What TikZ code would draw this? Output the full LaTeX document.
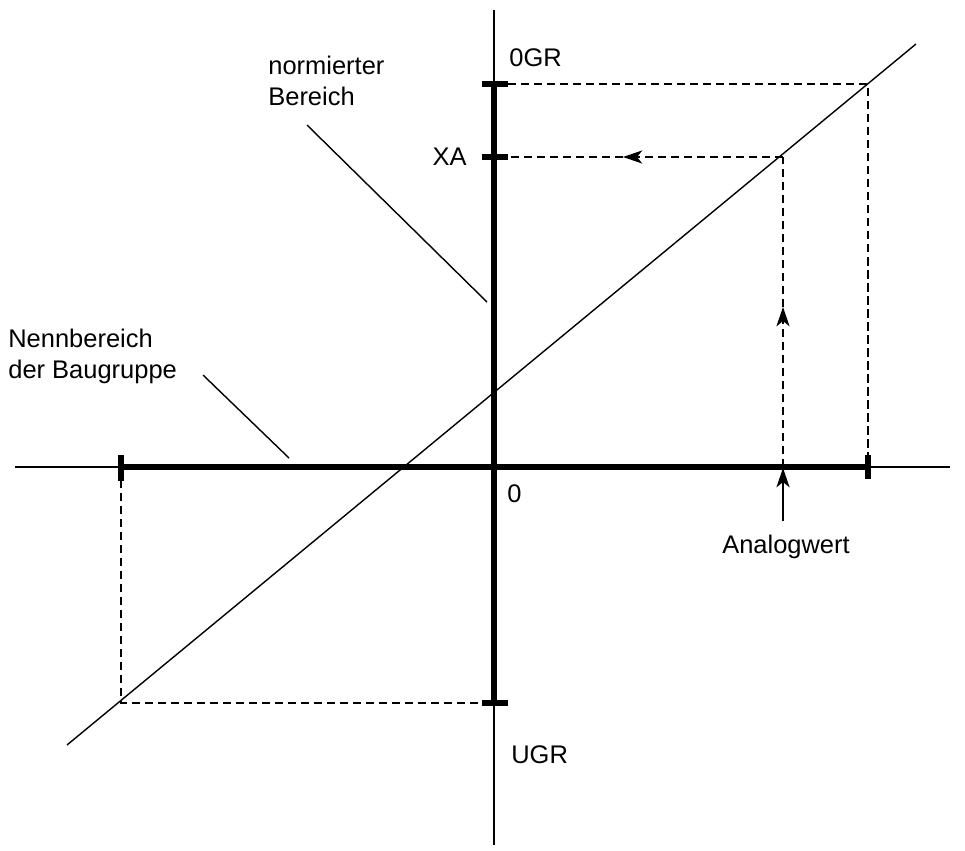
\documentclass[tikz,border=0pt]{standalone}
\usepackage{fontspec}
\setmainfont{Liberation Sans}
\usetikzlibrary{arrows.meta}
\begin{document}
\begin{tikzpicture}[x=0.02cm,y=-0.02cm,
  thin line/.style={line width=0.8pt},
  thick line/.style={line width=2.9pt},
  dash line/.style={line width=0.8pt,dash pattern=on 4.8pt off 2.6pt},
  tip/.style={-{Stealth[length=11pt,width=7.5pt,inset=3pt]}},
  lbl/.style={inner sep=0pt,font=\fontsize{14.5pt}{17.7pt}\selectfont}]
\useasboundingbox (0,0) rectangle (965,850);
% key coordinates
\coordinate (vtop) at (494,10);
\coordinate (vbot) at (494,845);
\coordinate (hl) at (15,467);
\coordinate (hr) at (950,467);
\coordinate (ogr) at (494,84);
\coordinate (xa) at (494,157);
\coordinate (ugr) at (494,703);
\coordinate (left) at (121,467);
\coordinate (right) at (868,467);
\coordinate (dA) at (67,745);
\coordinate (dB) at (916,44);
\coordinate (pR) at (868,84);
\coordinate (pX) at (783,157);
\coordinate (pAx) at (783,467);
\coordinate (pL) at (121,703);
\coordinate (arrX) at (623,157);
\coordinate (arrY) at (783,307);
\coordinate (aw) at (783,521);
% axes
\draw[thin line] (vtop) -- (vbot);
\draw[thin line] (hl) -- (hr);
\draw[thick line] (ogr) -- (ugr);
\draw[thick line] (left) -- (right);
% ticks
\draw[thick line] ([xshift=-12*0.02cm]ogr) -- ([xshift=14*0.02cm]ogr);
\draw[thick line] ([xshift=-12*0.02cm]xa) -- ([xshift=14*0.02cm]xa);
\draw[thick line] ([xshift=-12*0.02cm]ugr) -- ([xshift=14*0.02cm]ugr);
\draw[thick line] ([yshift=12*0.02cm]left) -- ([yshift=-14*0.02cm]left);
\draw[thick line] ([yshift=12*0.02cm]right) -- ([yshift=-12*0.02cm]right);
% diagonal
\draw[thin line] (dA) -- (dB);
% dashed guides
\draw[dash line] ([xshift=14*0.02cm]ogr) -- (pR) -- (right);
\draw[dash line,tip] (pX) -- (arrX);
\draw[dash line] (arrX) -- ([xshift=14*0.02cm]xa);
\draw[dash line,tip] (pAx) -- (arrY);
\draw[dash line] (arrY) -- (pX);
\draw[dash line] (left) -- (pL) -- (ugr);
% Analogwert arrow
\draw[thin line,tip] (aw) -- ([yshift=-1*0.02cm]pAx);
% labels
\node[lbl,anchor=base west] (t0gr) at (509,66) {0GR};
\node[lbl,anchor=base east] (txa) at (467,165) {XA};
\node[lbl,anchor=base west] (t0) at (507,502) {0};
\node[lbl,anchor=base west] (tugr) at (511,763) {UGR};
\node[lbl,anchor=base] (taw) at (786,553) {Analogwert};
\node[lbl,anchor=west,align=left] (tnorm) at (268,81) {normierter\\Bereich};
\node[lbl,anchor=west,align=left] (tnenn) at (8,356) {Nennbereich\\der Baugruppe};
% leaders
\coordinate (n1) at (307,125);
\coordinate (n2) at (487,302);
\coordinate (m1) at (203,375);
\coordinate (m2) at (289,458);
\draw[thin line] (n1) -- (n2);
\draw[thin line] (m1) -- (m2);
\end{tikzpicture}
\end{document}
